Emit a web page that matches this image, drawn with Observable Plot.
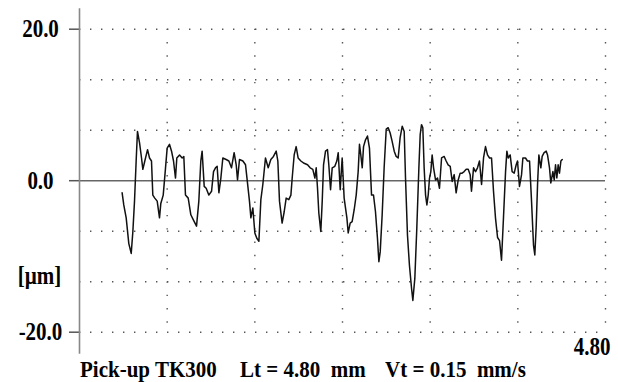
<!DOCTYPE html>
<html><head><meta charset="utf-8">
<script src="https://cdn.jsdelivr.net/npm/d3@7"></script>
<script src="https://cdn.jsdelivr.net/npm/@observablehq/plot@0.6"></script>
<style>
body{margin:0;background:#fff;width:618px;height:382px;overflow:hidden;font-family:"Liberation Serif","Times New Roman",serif;}
#chart svg{display:block}
#caption{position:relative;height:22px;font-weight:bold;font-size:21px;line-height:22px;color:#000;}
#caption span{position:absolute;top:-1px;white-space:pre;display:inline-block;transform-origin:50% 80%;transform:scaleY(1.1);}
</style></head><body>
<div id="chart"></div>
<div id="caption"></div>
<script>
// Surface profile: position along trace (mm) and height (µm)
const profileX = [0.389,0.404,0.426,0.450,0.472,0.487,0.502,0.517,0.529,0.548,0.566,0.578,0.596,0.621,0.639,0.657,0.669,0.687,0.709,0.730,0.742,0.764,0.785,0.800,0.821,0.840,0.858,0.876,0.888,0.913,0.937,0.952,0.967,0.992,1.016,1.040,1.068,1.089,1.107,1.119,1.138,1.156,1.180,1.205,1.223,1.241,1.256,1.272,1.290,1.308,1.338,1.363,1.387,1.411,1.430,1.442,1.460,1.491,1.515,1.530,1.551,1.564,1.582,1.600,1.618,1.637,1.655,1.673,1.697,1.722,1.746,1.770,1.795,1.810,1.825,1.849,1.868,1.886,1.910,1.929,1.941,1.959,1.977,1.995,2.020,2.050,2.081,2.105,2.129,2.148,2.160,2.172,2.184,2.202,2.215,2.227,2.245,2.263,2.275,2.291,2.306,2.330,2.348,2.361,2.379,2.397,2.415,2.440,2.452,2.470,2.488,2.507,2.525,2.543,2.555,2.567,2.580,2.592,2.610,2.628,2.646,2.665,2.683,2.701,2.719,2.732,2.744,2.762,2.780,2.799,2.817,2.835,2.853,2.872,2.890,2.908,2.926,2.945,2.963,2.975,2.993,3.011,3.030,3.042,3.060,3.078,3.097,3.109,3.121,3.133,3.145,3.158,3.170,3.182,3.194,3.206,3.218,3.231,3.249,3.267,3.285,3.304,3.328,3.346,3.364,3.383,3.401,3.419,3.437,3.456,3.474,3.492,3.510,3.529,3.547,3.565,3.577,3.596,3.614,3.632,3.650,3.669,3.687,3.705,3.723,3.742,3.760,3.778,3.796,3.815,3.833,3.851,3.869,3.888,3.900,3.912,3.930,3.948,3.967,3.985,3.997,4.015,4.034,4.046,4.070,4.088,4.107,4.125,4.143,4.155,4.167,4.180,4.192,4.210,4.222,4.240,4.259,4.271,4.289,4.301,4.320,4.332,4.344,4.356,4.368,4.380,4.393,4.405];
const profileY = [-1.6,-3.2,-4.9,-8.3,-9.6,-6.7,-2.7,2.6,6.5,5.0,3.0,1.5,2.6,4.1,3.0,2.6,-1.9,-2.3,-2.7,-4.9,-3.0,-1.9,1.7,4.3,4.8,3.9,2.6,0.35,3.0,3.4,3.0,3.2,-1.9,-2.3,-4.5,-5.2,-6.0,-2.7,2.6,3.9,-0.75,-1.0,-1.9,-1.4,1.2,1.7,1.9,-1.6,0.35,3.0,2.8,2.6,1.7,3.7,2.1,0.1,2.8,2.6,2.1,0.1,-2.7,-4.9,-3.6,-6.9,-7.6,-8.0,-2.5,-0.5,3.0,1.7,2.8,3.2,3.9,2.6,-2.7,-5.6,-4.1,-2.3,-2.5,-1.9,0.35,3.4,4.5,3.0,2.6,2.3,2.1,1.7,1.5,0.35,1.7,-1.0,-4.3,-6.7,-2.7,2.1,3.9,4.1,2.1,-1.2,1.7,1.9,2.6,3.7,-1.2,3.0,-2.3,-4.9,-6.9,-5.6,-5.4,-3.8,-1.9,1.2,4.8,3.4,1.7,4.5,5.4,5.9,4.3,-1.9,-1.9,-4.1,-7.6,-10.7,-9.4,-4.5,1.7,6.8,7.0,6.3,5.2,3.9,3.2,3.0,5.7,7.2,6.5,0.35,-7.2,-11.2,-14.2,-15.8,-12.9,-6.3,1.7,6.1,7.4,7.0,1.7,-1.9,-3.2,-1.9,0.35,1.2,3.4,1.7,0.1,0.35,-1.0,3.0,3.2,2.6,2.1,1.9,-0.1,0.8,-1.6,0.1,1.0,1.0,1.2,1.5,1.5,0.8,-1.4,1.7,1.2,1.7,2.6,-0.5,3.0,4.5,3.4,3.0,3.0,-1.4,-4.9,-7.5,-7.9,-10.5,-4.9,1.2,3.9,3.0,3.4,1.2,1.0,2.1,2.6,-0.75,0.8,3.0,3.0,2.6,2.6,-2.7,-8.5,-9.8,-6.2,-0.5,3.4,1.7,3.2,3.7,3.9,3.4,1.7,-0.3,1.2,0.1,2.1,0.35,2.1,1.0,2.6,2.8];

const xDomain = [0, 4.8];
const yDomain = [-20, 20];
const xGridLevels = [0.8, 1.6, 2.4, 3.2, 4.0, 4.8];
const yGridLevels = [20, 13.333, 6.667, -6.667, -13.333, -20];
const yTickValues = [20, 0, -20];
const yTickLabels = ["20.0", "0.0", "-20.0"];
const xEndValue = 4.8;
const xEndLabel = "4.80";
const unitLabel = "[µm]";
const axisExtent = [-22.9, 22.7];
const captionParts = ["Pick-up TK300", "Lt = 4.80  mm", "Vt = 0.15  mm/s"];

const profile = profileX.map((x, i) => ({x, y: profileY[i]}));
const ticks = yTickValues.map((v, i) => ({v, label: yTickLabels[i]}));
const font = {fontFamily: "Liberation Serif", fontWeight: "bold", fontSize: 21, fill: "black"};

const svg = Plot.plot({
  width: 618, height: 360,
  marginLeft: 79, marginRight: 13, marginTop: 28.7, marginBottom: 28.3,
  x: {domain: xDomain, axis: null},
  y: {domain: yDomain, axis: null},
  style: {background: "white", overflow: "visible"},
  marks: [
    Plot.ruleY(yGridLevels, {x1: xDomain[0], x2: xDomain[1], stroke: "#555", strokeWidth: 1.4, strokeDasharray: "1.4 9.6"}),
    Plot.ruleX(xGridLevels, {y1: yDomain[1], y2: yDomain[0], stroke: "#555", strokeWidth: 1.4, strokeDasharray: "1.4 11.9"}),
    Plot.ruleY([0], {x1: xDomain[0], x2: xDomain[1], stroke: "#666", strokeWidth: 1.5}),
    Plot.axisY(yTickValues, {tickSize: 10, tickFormat: () => "", stroke: "#555", strokeWidth: 1.5}),
    Plot.ruleX([0], {y1: axisExtent[0], y2: axisExtent[1], stroke: "#888", strokeWidth: 1.6}),
    Plot.line(profile, {x: "x", y: "y", stroke: "#111", strokeWidth: 1.5, strokeLinejoin: "round"}),
    Plot.text(ticks, {y: "v", text: "label", frameAnchor: "left", dx: -39, textAnchor: "middle", ...font}),
    Plot.text([unitLabel], {text: d => d, frameAnchor: "left", dx: -40, dy: 95, textAnchor: "middle", ...font}),
    Plot.text([xEndValue], {x: d => d, text: () => xEndLabel, frameAnchor: "bottom", dy: 23, dx: 5, textAnchor: "end", ...font})
  ]
});
// stretch label glyphs vertically (the reference type is taller than Liberation Serif)
d3.select(svg).selectAll("text").each(function() {
  const t = this.getAttribute("transform") || "";
  if (this.textContent.trim() !== "") this.setAttribute("transform", t + " scale(1,1.17)");
});
document.getElementById("chart").appendChild(svg);

const captionLeft = [80, 240, 385];
const cap = document.getElementById("caption");
captionParts.forEach((t, i) => {
  const s = document.createElement("span");
  s.textContent = t;
  s.style.left = captionLeft[i] + "px";
  cap.appendChild(s);
});
</script>
</body></html>
